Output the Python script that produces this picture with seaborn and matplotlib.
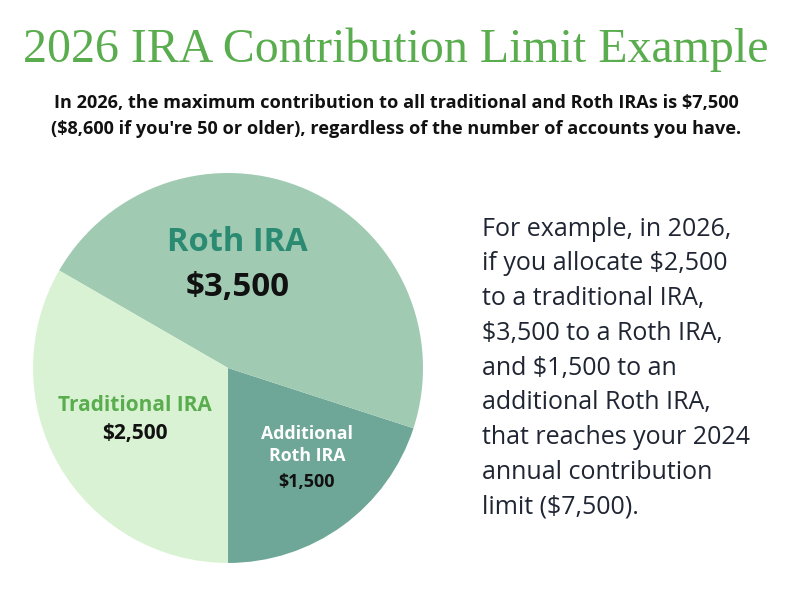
import matplotlib.pyplot as plt
import seaborn as sns

accounts = ["Additional\nRoth IRA", "Roth IRA", "Traditional IRA"]
amounts = [1500, 3500, 2500]
amount_labels = ["$1,500", "$3,500", "$2,500"]
slice_colors = ["#6ea797", "#a0cbb2", "#d9f2d3"]

title = "2026 IRA Contribution Limit Example"
subtitle = ("In 2026, the maximum contribution to all traditional and Roth IRAs is $7,500\n"
            "($8,600 if you're 50 or older), regardless of the number of accounts you have.")
side_lines = ["For example, in 2026,", "if you allocate $2,500", "to a traditional IRA,",
              "$3,500 to a Roth IRA,", "and $1,500 to an", "additional Roth IRA,",
              "that reaches your 2024", "annual contribution", "limit ($7,500)."]

sns.set_theme(style="white")
plt.rcParams['font.family'] = ['Open Sans', 'DejaVu Sans']

fig = plt.figure(figsize=(7.92, 5.94), dpi=100)
fig.patch.set_facecolor("white")

fig.text(0.5, 1 - 50 / 594, title, ha="center", va="center", fontsize=34.5,
         family="Liberation Serif", color="#5aad4e")
fig.text(0.5, 1 - 116 / 594, subtitle, ha="center", va="center", fontsize=13.1,
         fontweight="bold", color="#111111", linespacing=1.55)

ax = fig.add_axes([0.0417, 0.0522, 0.4924, 0.6566])
ax.pie(amounts, colors=slice_colors, startangle=-90, counterclock=True, radius=1,
       wedgeprops=dict(linewidth=0))
ax.set_xlim(-1, 1)
ax.set_ylim(-1, 1)
ax.set_aspect("equal")
ax.axis("off")

# slice labels
ax.text(0.05, 0.646, accounts[1], ha="center", va="center", fontsize=23.5,
        fontweight="bold", color="#2b8a72")
ax.text(0.05, 0.415, amount_labels[1], ha="center", va="center", fontsize=23.8,
        fontweight="bold", color="#111111")
ax.text(-0.477, -0.19, accounts[2], ha="center", va="center", fontsize=15,
        fontweight="bold", color="#5aad4e")
ax.text(-0.477, -0.338, amount_labels[2], ha="center", va="center", fontsize=15,
        fontweight="bold", color="#111111")
ax.text(0.405, -0.397, accounts[0], ha="center", va="center", fontsize=12.8,
        fontweight="bold", color="white", linespacing=1.3)
ax.text(0.405, -0.585, amount_labels[0], ha="center", va="center", fontsize=13,
        fontweight="bold", color="#111111")

for i, line in enumerate(side_lines):
    fig.text(482 / 792, 1 - (229 + i * 34.8) / 594, line, ha="left", va="center",
             fontsize=18, color="#1f2532")

fig.savefig("out.png", dpi=100, facecolor="white")
